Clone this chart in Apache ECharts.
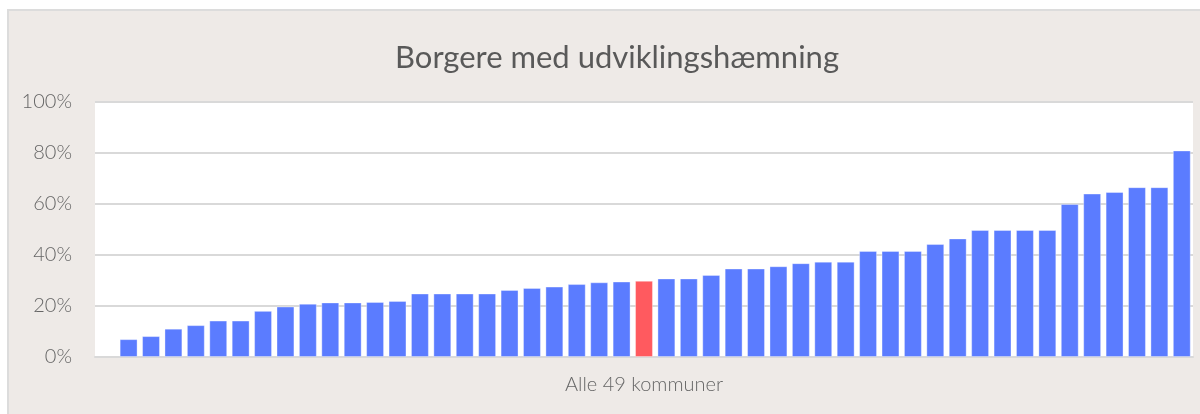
<!DOCTYPE html>
<html>
<head>
<meta charset="utf-8">
<script src="https://cdn.jsdelivr.net/npm/echarts@6/dist/echarts.min.js"></script>
<style>
  html, body { margin: 0; padding: 0; background: #fff; }
  #frame { position: absolute; left: 7px; top: 9px; width: 1193px; height: 405px;
           background: #EEEAE7; border-top: 2px solid #dcdcdc; border-left: 2px solid #dcdcdc; box-sizing: border-box; }
  #chart { position: absolute; left: 0; top: 0; width: 1200px; height: 414px; }
</style>
</head>
<body>
<div id="frame"></div>
<div id="chart"></div>
<script>
// 49 kommuner, den første uden data
var kommuner = [];
for (var i = 1; i <= 49; i++) kommuner.push('K' + i);
var andel = [null, 7.0, 8.2, 11.1, 12.5, 14.3, 14.3, 18.1, 19.8, 20.9, 21.4, 21.4, 21.6, 22.0,
  24.9, 24.9, 24.9, 24.9, 26.3, 27.1, 27.6, 28.6, 29.3, 29.6, 29.9, 30.8, 30.8, 32.2,
  34.7, 34.7, 35.6, 36.8, 37.4, 37.4, 41.6, 41.6, 41.6, 44.3, 46.5, 49.8, 49.8, 49.8,
  49.8, 60.0, 64.1, 64.7, 66.6, 66.6, 81.0];
var fremhaevet = 24; // indeks for den røde søjle
var yTicks = [0, 20, 40, 60, 80, 100];

var chart = echarts.init(document.getElementById('chart'), null, { renderer: 'canvas' });

var barData = andel.map(function (v, i) {
  return {
    value: v,
    itemStyle: { color: i === fremhaevet ? '#FF5A5F' : '#5B7CFF' }
  };
});

chart.setOption({
  backgroundColor: 'transparent',
  title: {
    text: 'Borgere med udviklingshæmning',
    left: 390,
    top: 37,
    textStyle: { fontFamily: 'Lato', fontWeight: 400, fontSize: 31, color: '#595959' }
  },
  grid: {
    left: 95, right: 7, top: 102, bottom: 57,
    show: true, backgroundColor: '#fff', borderWidth: 0
  },
  xAxis: {
    type: 'category',
    data: kommuner,
    name: 'Alle 49 kommuner',
    nameLocation: 'middle',
    nameGap: 18,
    nameTextStyle: { fontFamily: 'Lato', fontWeight: 300, fontSize: 20, color: '#666' },
    axisLine: { show: true, lineStyle: { color: '#d9d9d9', width: 2 } },
    axisTick: { show: false },
    axisLabel: { show: false }
  },
  yAxis: {
    type: 'value',
    min: 0, max: 100, interval: 20,
    axisLine: { show: false },
    axisTick: { show: false },
    axisLabel: {
      margin: 23,
      fontFamily: 'Lato', fontWeight: 300, fontSize: 20, color: '#666',
      formatter: function (v) { return yTicks.indexOf(v) >= 0 ? v + '%' : ''; }
    },
    splitLine: { lineStyle: { color: '#d9d9d9', width: 2 } }
  },
  series: [{
    type: 'bar',
    data: barData,
    barCategoryGap: '20%',
    itemStyle: { borderColor: 'rgba(255,255,255,0.35)', borderWidth: 1 },
    animation: false
  }],
  animation: false
});
</script>
</body>
</html>
